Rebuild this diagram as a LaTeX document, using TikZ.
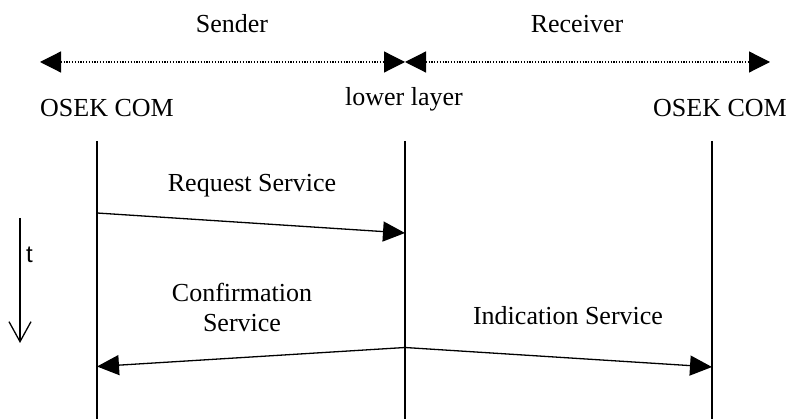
\documentclass[tikz,border=0pt]{standalone}
\usepackage{fontspec}
\setmainfont{Liberation Serif}
\newfontfamily\tsans{Liberation Sans}
\usetikzlibrary{arrows.meta}
\begin{document}
\begin{tikzpicture}[x=1pt,y=-1pt,
  lbl/.style={font=\fontsize{26}{30}\selectfont, inner sep=0pt, anchor=base},
  life/.style={line width=1.3pt},
  msg/.style={line width=1.3pt, -{Triangle[length=22pt,width=20pt]}},
  span/.style={line width=1.2pt, dash pattern=on 1.2pt off 1.6pt,
    {Triangle[length=21pt,width=21pt]}-{Triangle[length=21pt,width=21pt]}},
  timearrow/.style={line width=1.3pt, -{Straight Barb[length=20pt,width=22pt,line width=1.3pt]}}]
\useasboundingbox (0,0) rectangle (792,419);
\fill[white] (0,0) rectangle (792,419);

% role labels
\node[lbl] (sender) at (232,33) {Sender};
\node[lbl] (receiver) at (577,33) {Receiver};

% span arrows
\coordinate (sl) at (40,62);
\coordinate (sm) at (405,62);
\coordinate (sr) at (770,62);
\draw[span] (sl) -- (sm);
\draw[span] (sm) -- (sr);

% layer labels
\node[lbl] (osekL) at (107,117) {OSEK COM};
\node[lbl] (lower) at (404,106) {lower layer};
\node[lbl] (osekR) at (720,117) {OSEK COM};

% lifelines
\coordinate (aT) at (97,141);  \coordinate (aB) at (97,419);
\coordinate (bT) at (405,141); \coordinate (bB) at (405,419);
\coordinate (cT) at (712,141); \coordinate (cB) at (712,419);
\draw[life] (aT) -- (aB);
\draw[life] (bT) -- (bB);
\draw[life] (cT) -- (cB);

% request
\coordinate (rq1) at (97,213);
\coordinate (rq2) at (405,233);
\draw[msg] (rq1) -- (rq2);
\node[lbl] (rqlbl) at (252,192) {Request Service};

% confirmation / indication
\coordinate (src) at (405,347.5);
\coordinate (cf) at (97,366.5);
\coordinate (ind) at (712,367);
\draw[msg] (src) -- (cf);
\draw[msg] (src) -- (ind);
\node[lbl] (cflbl1) at (242,302) {Confirmation};
\node[lbl] (cflbl2) at (242,332) {Service};
\node[lbl] (indlbl) at (568,325) {Indication Service};

% time axis
\coordinate (t1) at (20,218);
\coordinate (t2) at (20,343);
\draw[timearrow] (t1) -- (t2);
\node[lbl, font=\tsans\fontsize{24}{28}\selectfont, anchor=base west] (tlbl) at (26,263) {t};
\end{tikzpicture}
\end{document}
